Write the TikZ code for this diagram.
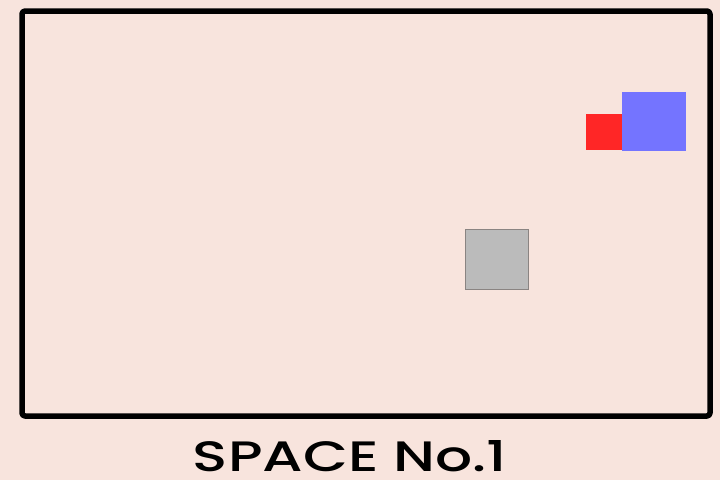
\documentclass[tikz,border=0pt]{standalone}
\usepackage{fontspec}
\setmainfont{Poppins}
\definecolor{bg}{HTML}{F8E4DD}
\definecolor{redsq}{HTML}{FF2626}
\definecolor{bluesq}{HTML}{7474FF}
\definecolor{graysq}{HTML}{BBBBBB}
\definecolor{grayedge}{HTML}{8A8482}
\tikzset{
  frame/.style={draw=black, line width=5.5pt, rounded corners=3pt, line join=round},
  sq/.style={inner sep=0pt, outer sep=0pt, anchor=north west}
}
\begin{document}
\begin{tikzpicture}[x=1pt,y=-1pt]
\fill[bg] (0,0) rectangle (720,480);
\useasboundingbox (0,0) rectangle (720,480);
\node[sq, minimum width=36pt, minimum height=36pt, fill=redsq] (red) at (586,114) {};
\node[sq, minimum width=64pt, minimum height=59pt, fill=bluesq] (blue) at (622,92) {};
\node[sq, minimum width=63pt, minimum height=60pt, fill=graysq, draw=grayedge, line width=0.8pt] (gray) at (465,229) {};
\draw[frame] (22,11) rectangle (710,416);
\node[inner sep=0pt, anchor=center] (title) at (350,456) {\resizebox{314pt}{31pt}{\fontspec{Poppins Medium}SPACE No.1}};
\end{tikzpicture}
\end{document}
